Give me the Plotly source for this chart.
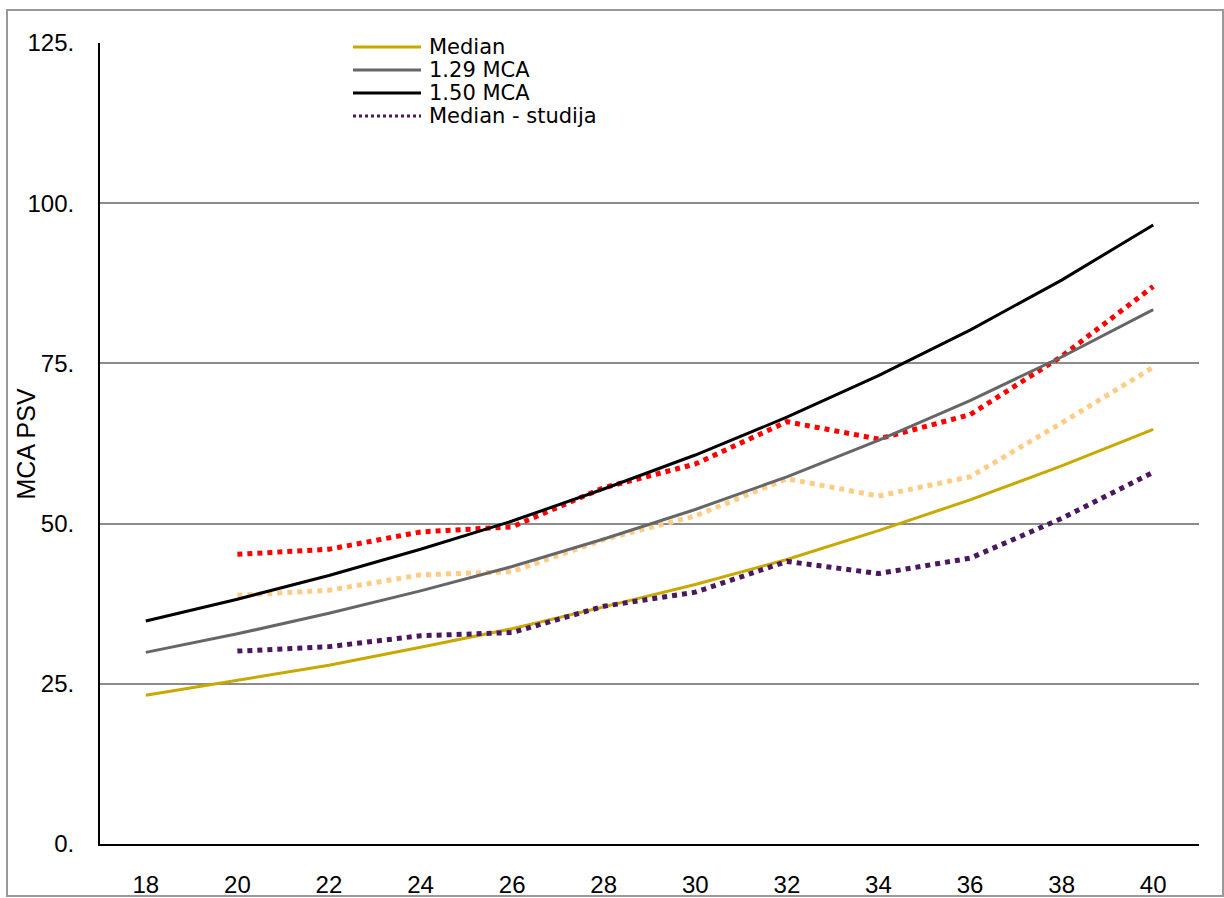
import plotly.graph_objects as go

weeks = [18, 20, 22, 24, 26, 28, 30, 32, 34, 36, 38, 40]
median = [23.2, 25.5, 27.9, 30.7, 33.6, 37.0, 40.5, 44.4, 48.9, 53.7, 59.0, 64.7]
mca_129 = [29.9, 32.8, 36.0, 39.5, 43.3, 47.6, 52.2, 57.3, 63.0, 69.2, 76.0, 83.4]
mca_150 = [34.8, 38.2, 41.9, 46.0, 50.4, 55.4, 60.7, 66.6, 73.1, 80.2, 88.0, 96.6]

study_weeks = [20, 22, 24, 26, 28, 30, 32, 34, 36, 38, 40]
study_median = [30.1, 30.8, 32.5, 33.0, 37.1, 39.3, 44.1, 42.2, 44.6, 50.8, 58.0]
study_orange = [38.8, 39.6, 42.0, 42.5, 47.5, 51.2, 57.0, 54.3, 57.3, 65.7, 74.4]
study_red = [45.2, 46.0, 48.7, 49.5, 55.6, 59.3, 65.9, 63.2, 67.0, 76.1, 87.0]

y_ticks = [0, 25, 50, 75, 100, 125]
y_ticktext = ["0.", "25.", "50.", "75.", "100.", "125."]
x_ticks = weeks
y_title = "MCA PSV"

legend_names = ["Median", "1.29 MCA", "1.50 MCA", "Median - studija"]
legend_colors = ["#C9A800", "#666666", "#000000", "#4B1760"]
legend_dash = ["solid", "solid", "solid", "dot"]

fig = go.Figure()
fig.add_trace(go.Scatter(x=study_weeks, y=study_red, mode="lines", name="red",
                         line=dict(color="#FF0000", width=5, dash="dot"), showlegend=False))
fig.add_trace(go.Scatter(x=study_weeks, y=study_orange, mode="lines", name="orange",
                         line=dict(color="#FFCC88", width=5, dash="dot"), showlegend=False))
fig.add_trace(go.Scatter(x=weeks, y=median, mode="lines", name=legend_names[0],
                         line=dict(color=legend_colors[0], width=3), showlegend=False))
fig.add_trace(go.Scatter(x=weeks, y=mca_129, mode="lines", name=legend_names[1],
                         line=dict(color=legend_colors[1], width=3), showlegend=False))
fig.add_trace(go.Scatter(x=weeks, y=mca_150, mode="lines", name=legend_names[2],
                         line=dict(color=legend_colors[2], width=3), showlegend=False))
fig.add_trace(go.Scatter(x=study_weeks, y=study_median, mode="lines", name=legend_names[3],
                         line=dict(color=legend_colors[3], width=5, dash="dot"), showlegend=False))

W, H = 1224, 898
L, R, T, B = 100, 25, 43, 54
pw, ph = W - L - R, H - T - B

def px(x):
    return (x - L) / pw

def py(y):
    return (H - B - y) / ph

shapes = []
annotations = []
# outer border
shapes.append(dict(type="rect", xref="paper", yref="paper",
                   x0=px(7), x1=px(1223), y0=py(896), y1=py(10),
                   line=dict(color="#999999", width=2), fillcolor="rgba(0,0,0,0)", layer="below"))
# manual legend
rows_y = [47, 70, 93, 116]
for name, col, dsh, ry in zip(legend_names, legend_colors, legend_dash, rows_y):
    shapes.append(dict(type="line", xref="paper", yref="paper",
                       x0=px(353), x1=px(421), y0=py(ry), y1=py(ry),
                       line=dict(color=col, width=3, dash=dsh)))
    annotations.append(dict(xref="paper", yref="paper", x=px(427), y=py(ry),
                            text=name, showarrow=False, xanchor="left", yanchor="middle",
                            font=dict(family="DejaVu Sans", size=21, color="#000000")))
# y-axis title
annotations.append(dict(xref="paper", yref="paper", x=px(25), y=py(444.5),
                        text=y_title, showarrow=False, textangle=-90,
                        xanchor="center", yanchor="middle",
                        font=dict(family="Liberation Sans", size=25, color="#000000")))

fig.update_layout(
    width=W, height=H,
    margin=dict(l=L, r=R, t=T, b=B, autoexpand=False),
    paper_bgcolor="white", plot_bgcolor="white",
    font=dict(family="Liberation Sans", size=24, color="#000000"),
    shapes=shapes, annotations=annotations,
    showlegend=False,
)
fig.update_xaxes(range=[17, 41], tickvals=x_ticks, ticktext=[str(w) for w in x_ticks],
                 showgrid=False, zeroline=False, showline=True, linecolor="#000000", linewidth=2,
                 ticks="", ticklabelstandoff=18, tickfont=dict(family="Liberation Sans", size=24))
fig.update_yaxes(range=[0, 125], tickvals=y_ticks, ticktext=y_ticktext,
                 showgrid=True, gridcolor="#8C8C8C", gridwidth=2, zeroline=False,
                 showline=True, linecolor="#000000", linewidth=2, ticks="",
                 ticklabelstandoff=19, tickfont=dict(family="Liberation Sans", size=24))

fig.write_html("out.html")
